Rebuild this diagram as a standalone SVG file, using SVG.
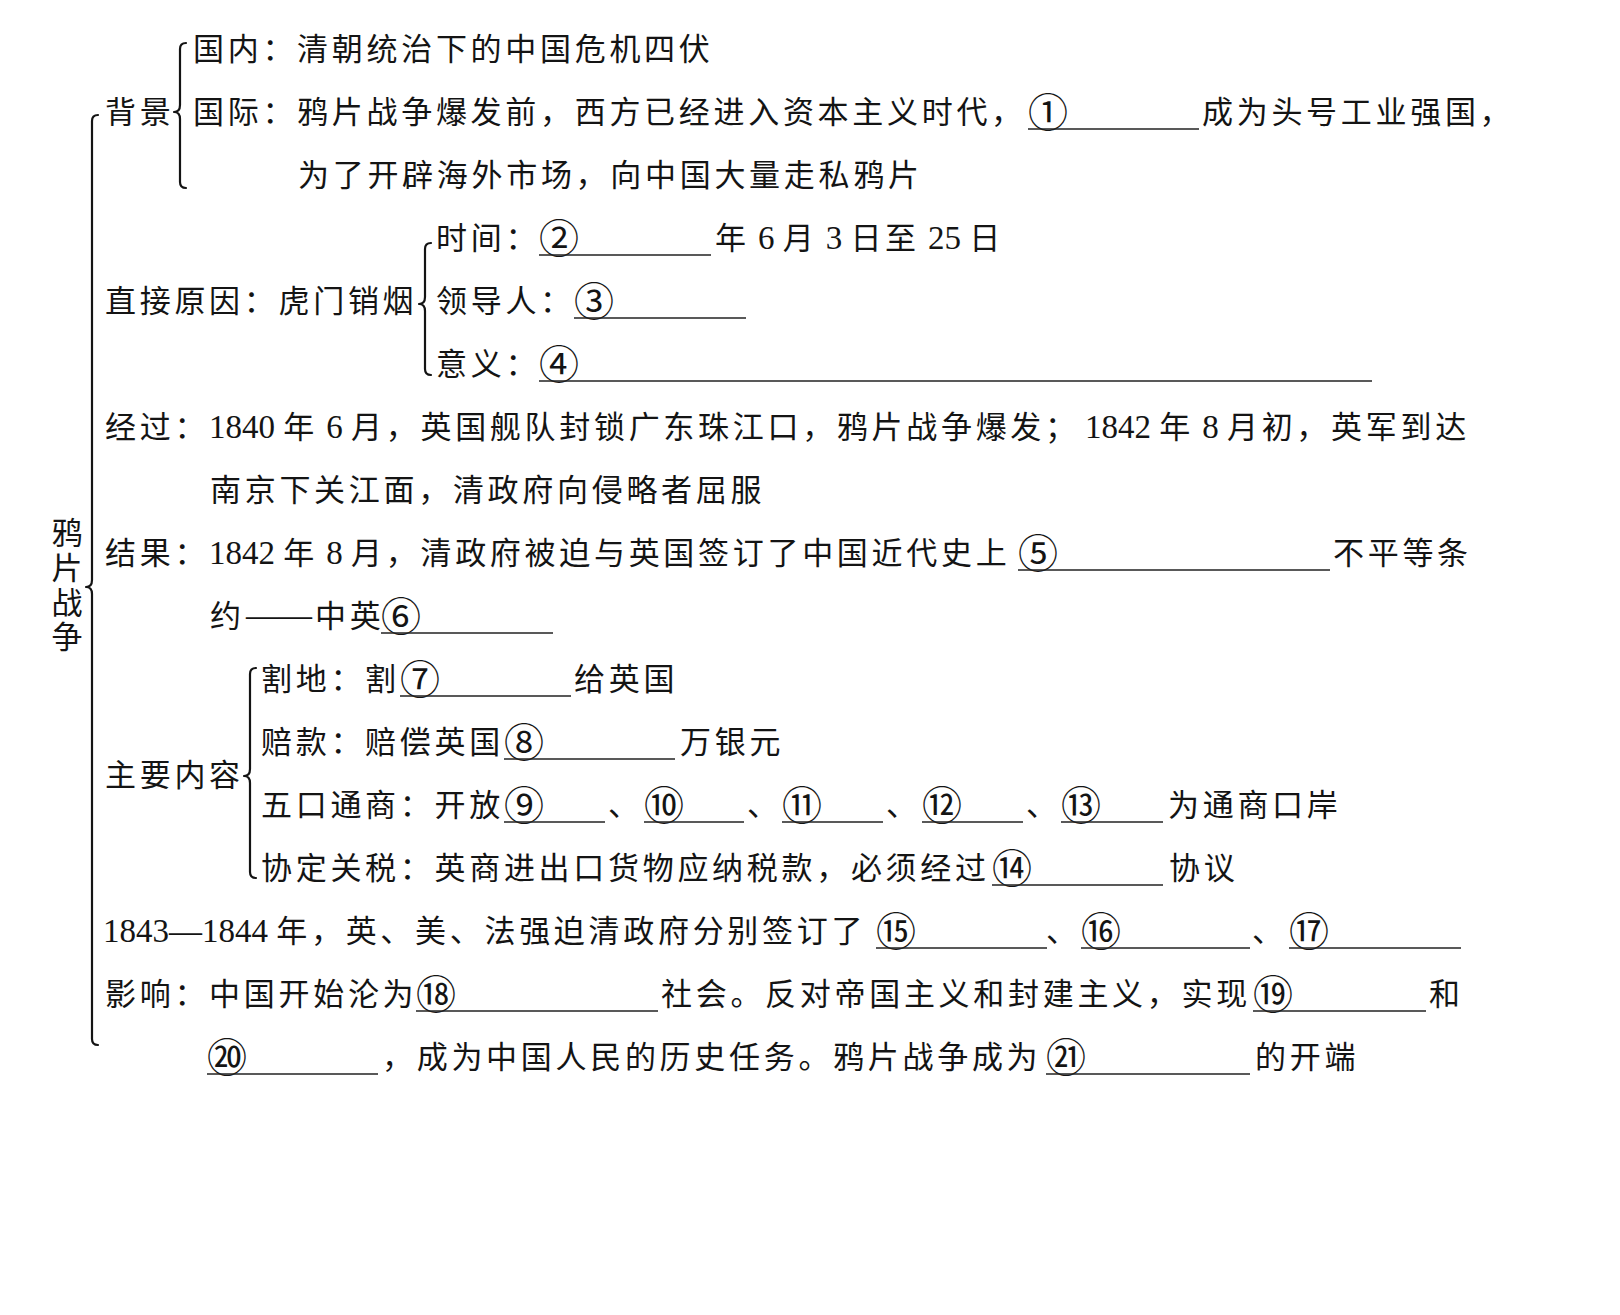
<svg xmlns="http://www.w3.org/2000/svg" width="1620" height="1315" viewBox="0 0 1620 1315">
<style>
.t{font-family:"Noto Sans CJK SC","Noto Sans",sans-serif;font-size:31px;letter-spacing:3.7px;fill:#141414}
.n{font-family:"Liberation Serif",serif;font-size:33px;letter-spacing:0}
.c{font-size:40px;letter-spacing:0}
.u{stroke:#222;stroke-width:1.6}
.b{fill:none;stroke:#141414;stroke-width:2.2;stroke-linecap:round;stroke-linejoin:round}
</style>
<rect width="1620" height="1315" fill="#fff"/>
<g id="connectors">
<path class="b" d="M98 115 Q92 115 92 121 L92 580 Q92 587 86 587 Q92 587 92 594 L92 1039 Q92 1045 98 1045"/>
<path class="b" d="M186 43 Q180 43 180 49 L180 105 Q180 112 174 112 Q180 112 180 119 L180 182 Q180 188 186 188"/>
<path class="b" d="M431 243 Q425 243 425 249 L425 297 Q425 304 419 304 Q425 304 425 311 L425 369 Q425 375 431 375"/>
<path class="b" d="M256 668 Q250 668 250 674 L250 769 Q250 776 244 776 Q250 776 250 783 L250 872 Q250 878 256 878"/>
</g>
<g id="title">
<text class="t" x="67" y="517" style="writing-mode:vertical-rl" letter-spacing="2.5">鸦片战争</text>
</g>
<g id="beijing">
<text class="t" x="105" y="123">背景</text>
<text class="t" x="193" y="60">国内：清朝统治下的中国危机四伏</text>
<text class="t" x="193" y="123">国际：鸦片战争爆发前，西方已经进入资本主义时代，</text>
<text class="t c" x="1028" y="127">①</text>
<line class="u" x1="1028" y1="129" x2="1199" y2="129"/>
<text class="t" x="1202" y="123">成为头号工业强国，</text>
<text class="t" x="298" y="186">为了开辟海外市场，向中国大量走私鸦片</text>
</g>
<g id="yuanyin">
<text class="t" x="105" y="312">直接原因：虎门销烟</text>
<text class="t" x="436" y="249">时间：</text>
<text class="t c" x="539" y="253">②</text>
<line class="u" x1="539" y1="255" x2="711" y2="255"/>
<text class="t" x="715" y="249">年<tspan class="n"> 6 </tspan>月<tspan class="n"> 3 </tspan>日至<tspan class="n"> 25 </tspan>日</text>
<text class="t" x="436" y="312">领导人：</text>
<text class="t c" x="574" y="316">③</text>
<line class="u" x1="574" y1="318" x2="746" y2="318"/>
<text class="t" x="436" y="375">意义：</text>
<text class="t c" x="539" y="379">④</text>
<line class="u" x1="539" y1="381" x2="1372" y2="381"/>
</g>
<g id="jingguo">
<text class="t" x="105" y="438">经过：<tspan class="n">1840 </tspan>年<tspan class="n"> 6 </tspan>月，英国舰队封锁广东珠江口，鸦片战争爆发；<tspan class="n" x="1085">1842 </tspan>年<tspan class="n"> 8 </tspan>月初，英军到达</text>
<text class="t" x="210" y="501">南京下关江面，清政府向侵略者屈服</text>
</g>
<g id="jieguo">
<text class="t" x="105" y="564">结果：<tspan class="n">1842 </tspan>年<tspan class="n"> 8 </tspan>月，清政府被迫与英国签订了中国近代史上</text>
<text class="t c" x="1018" y="568">⑤</text>
<line class="u" x1="1018" y1="570" x2="1330" y2="570"/>
<text class="t" x="1333" y="564">不平等条</text>
<text class="t" x="210" y="627">约<tspan class="n" x="246" dy="-1">——</tspan><tspan x="315" dy="1">中英</tspan></text>
<text class="t c" x="381" y="631">⑥</text>
<line class="u" x1="381" y1="633" x2="553" y2="633"/>
</g>
<g id="neirong">
<text class="t" x="105" y="786">主要内容</text>
<text class="t" x="261" y="690">割地：割</text>
<text class="t c" x="400" y="694">⑦</text>
<line class="u" x1="400" y1="696" x2="571" y2="696"/>
<text class="t" x="574" y="690">给英国</text>
<text class="t" x="261" y="753">赔款：赔偿英国</text>
<text class="t c" x="504" y="757">⑧</text>
<line class="u" x1="504" y1="759" x2="675" y2="759"/>
<text class="t" x="680" y="753">万银元</text>
<text class="t" x="261" y="816">五口通商：开放</text>
<text class="t c" x="504" y="820">⑨</text>
<line class="u" x1="504" y1="822" x2="605" y2="822"/>
<text class="t" x="608" y="816">、</text>
<text class="t c" x="644" y="820">⑩</text>
<line class="u" x1="644" y1="822" x2="744" y2="822"/>
<text class="t" x="747" y="816">、</text>
<text class="t c" x="782" y="820">⑪</text>
<line class="u" x1="782" y1="822" x2="883" y2="822"/>
<text class="t" x="886" y="816">、</text>
<text class="t c" x="922" y="820">⑫</text>
<line class="u" x1="922" y1="822" x2="1023" y2="822"/>
<text class="t" x="1026" y="816">、</text>
<text class="t c" x="1061" y="820">⑬</text>
<line class="u" x1="1061" y1="822" x2="1163" y2="822"/>
<text class="t" x="1168" y="816">为通商口岸</text>
<text class="t" x="261" y="879">协定关税：英商进出口货物应纳税款，必须经过</text>
<text class="t c" x="992" y="883">⑭</text>
<line class="u" x1="992" y1="885" x2="1163" y2="885"/>
<text class="t" x="1169" y="879">协议</text>
</g>
<g id="tiaoyue">
<text class="t" x="103" y="942"><tspan class="n">1843—1844 </tspan>年，英、美、法强迫清政府分别签订了</text>
<text class="t c" x="876" y="946">⑮</text>
<line class="u" x1="876" y1="948" x2="1047" y2="948"/>
<text class="t" x="1046" y="942">、</text>
<text class="t c" x="1081" y="946">⑯</text>
<line class="u" x1="1081" y1="948" x2="1250" y2="948"/>
<text class="t" x="1252" y="942">、</text>
<text class="t c" x="1289" y="946">⑰</text>
<line class="u" x1="1289" y1="948" x2="1461" y2="948"/>
</g>
<g id="yingxiang">
<text class="t" x="105" y="1005">影响：中国开始沦为</text>
<text class="t c" x="416" y="1009">⑱</text>
<line class="u" x1="416" y1="1011" x2="658" y2="1011"/>
<text class="t" x="661" y="1005">社会。反对帝国主义和封建主义，实现</text>
<text class="t c" x="1253" y="1009">⑲</text>
<line class="u" x1="1253" y1="1011" x2="1426" y2="1011"/>
<text class="t" x="1429" y="1005">和</text>
<text class="t c" x="207" y="1072">⑳</text>
<line class="u" x1="207" y1="1074" x2="378" y2="1074"/>
<text class="t" x="382" y="1068">，成为中国人民的历史任务。鸦片战争成为</text>
<text class="t c" x="1046" y="1072">㉑</text>
<line class="u" x1="1046" y1="1074" x2="1250" y2="1074"/>
<text class="t" x="1255" y="1068">的开端</text>
</g>
</svg>
